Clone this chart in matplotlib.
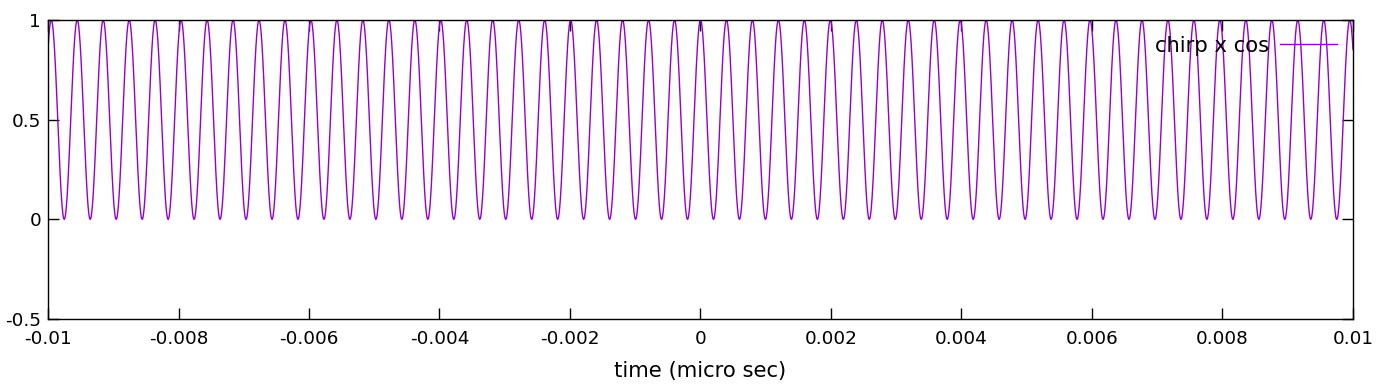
import matplotlib
matplotlib.use("Agg")
import matplotlib.pyplot as plt
import numpy as np

# values
x_range = [-0.01, 0.01]
y_range = [-0.5, 1.0]
x_ticks = [-0.01, -0.008, -0.006, -0.004, -0.002, 0, 0.002, 0.004, 0.006, 0.008, 0.01]
x_tick_labels = ["-0.01", "-0.008", "-0.006", "-0.004", "-0.002", "0",
                 "0.002", "0.004", "0.006", "0.008", "0.01"]
y_ticks = [-0.5, 0, 0.5, 1]
y_tick_labels = ["-0.5", "0", "0.5", "1"]
period = 3.98e-4      # distance between peaks (measured)
peak_at = 0.0         # a peak sits at t = 0
series_name = "chirp x cos"

plt.rcParams["font.family"] = ["DejaVu Sans"]

t = np.linspace(x_range[0], x_range[1], 40001)
y = 0.5 * (1 + np.cos(2 * np.pi * (t - peak_at) / period))

fig = plt.figure(figsize=(13.76, 3.84), dpi=100)
ax = fig.add_axes([48 / 1376, 1 - 319 / 384, 1305 / 1376, 299 / 384])
ax.plot(t, y, color="#9400D3", lw=1.0, label=series_name)

ax.set_xlim(x_range)
ax.set_ylim(y_range)
ax.set_xticks(x_ticks)
ax.set_xticklabels(x_tick_labels)
ax.set_yticks(y_ticks)
ax.set_yticklabels(y_tick_labels)
ax.tick_params(direction="in", length=8, width=1, top=True, right=True,
               labelsize=13.2)
ax.tick_params(axis="x", pad=8)
ax.tick_params(axis="y", pad=5)
for s in ax.spines.values():
    s.set_linewidth(1)
ax.set_xlabel("time (micro sec)", fontsize=15.2, labelpad=9)

ax.legend(loc="upper right", frameon=False, markerfirst=False, fontsize=15.2,
          handlelength=2.7, handletextpad=0.5, borderaxespad=0.35)

fig.savefig("out.png", dpi=100)
